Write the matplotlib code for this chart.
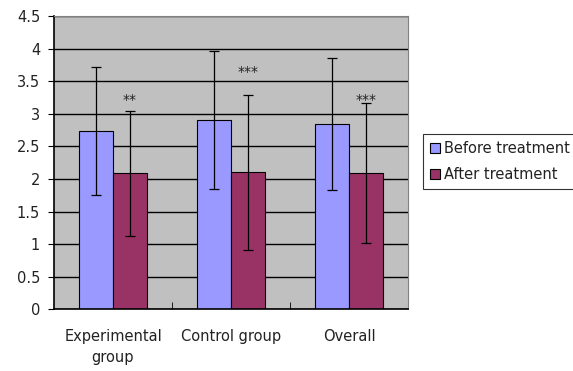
import numpy as np
import matplotlib
matplotlib.use("Agg")
import matplotlib.pyplot as plt

categories = ["Experimental\ngroup", "Control group", "Overall"]
before = [2.74, 2.91, 2.84]
after = [2.09, 2.10, 2.09]
before_err = [0.98, 1.06, 1.01]
after_err = [0.96, 1.19, 1.08]
stars = ["**", "***", "***"]
star_y = [3.21, 3.64, 3.21]

plt.rcParams['font.family'] = ['DejaVu Sans']

fig = plt.figure(figsize=(5.73, 3.71), dpi=100)
ax = fig.add_axes([54 / 573, 1 - 309.3 / 371, (408 - 54) / 573, (309.3 - 16) / 371])

x = np.arange(len(categories))
w = 0.284
ax.set_facecolor("#C0C0C0")
ax.set_axisbelow(True)
ax.yaxis.grid(True, color="black", linewidth=1)

ax.bar(x - w / 2, before, w, color="#9999FF", edgecolor="black", linewidth=0.8,
       label="Before treatment", zorder=2)
ax.bar(x + w / 2, after, w, color="#993366", edgecolor="black", linewidth=0.8,
       label="After treatment", zorder=2)
ax.errorbar(x - w / 2, before, yerr=before_err, fmt="none", ecolor="black",
            elinewidth=0.9, capsize=3.5, capthick=0.9, zorder=3)
ax.errorbar(x + w / 2, after, yerr=after_err, fmt="none", ecolor="black",
            elinewidth=0.9, capsize=3.5, capthick=0.9, zorder=3)

for i in range(len(categories)):
    ax.text(x[i] + w / 2, star_y[i], stars[i], ha="center", va="center",
            fontsize=10, color="#222222")

ax.set_xlim(-0.5, 2.5)
ax.set_ylim(0, 4.5)
ax.set_yticks(np.arange(0, 4.51, 0.5))
ax.set_yticklabels(["0", "0.5", "1", "1.5", "2", "2.5", "3", "3.5", "4", "4.5"],
                   fontsize=10.5, color="#222222")
ax.set_xticks(x)
ax.set_xticklabels(categories, fontsize=10.5, linespacing=1.5, color="#222222")
ax.tick_params(axis="x", length=0, pad=14)
ax.set_xticks([0.5, 1.5], minor=True)
ax.tick_params(axis="x", which="minor", direction="in", length=5, color="black")
ax.tick_params(axis="y", direction="out", length=4, color="black", pad=6)

for s in ["top", "right"]:
    ax.spines[s].set_color("#808080")
for s in ["left", "bottom"]:
    ax.spines[s].set_color("black")
    ax.spines[s].set_linewidth(1.2)

leg = ax.legend(loc="center left", bbox_to_anchor=(423 / 573, 1 - 161.5 / 371),
                bbox_transform=fig.transFigure, fontsize=10.5, frameon=True,
                fancybox=False, edgecolor="black", handlelength=0.7, handleheight=0.7,
                handletextpad=0.3, borderpad=0.45, labelspacing=0.75, borderaxespad=0)
leg.get_frame().set_linewidth(0.8)
for t in leg.get_texts():
    t.set_color("#222222")

fig.savefig("out.png", dpi=100)
